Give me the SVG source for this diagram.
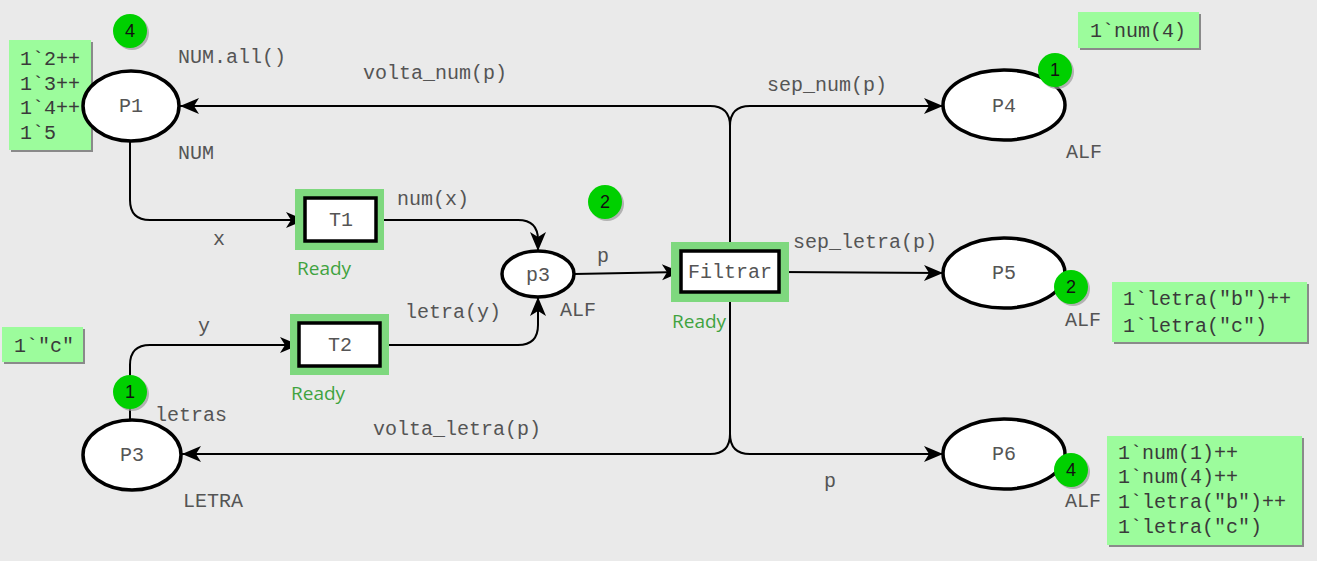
<svg xmlns="http://www.w3.org/2000/svg" width="1317" height="561" viewBox="0 0 1317 561">
<defs>
<style>
.place{fill:#fff;stroke:#000;stroke-width:3.5}
.trans{fill:#fff;stroke:#000;stroke-width:3.5}
.hl{fill:#7ed87e}
.arc{fill:none;stroke:#000;stroke-width:2}
.lbl{font-family:"Liberation Mono","Courier New",monospace;font-size:20px;fill:#555}
.name{font-family:"Liberation Mono","Courier New",monospace;font-size:20px;fill:#555;text-anchor:middle;dominant-baseline:central}
.ready{font-family:"Open Sans","Liberation Sans",sans-serif;font-size:19px;fill:#3fa33f}
.tok{fill:#00d000}
.tokshadow{fill:#9a9a9a;opacity:0.7}
.toktxt{font-family:"Liberation Sans",Arial,sans-serif;font-size:18px;fill:#111;text-anchor:middle;dominant-baseline:central}
.mark{fill:#9cfc9c}
.markshadow{fill:#8a8a8a}
.marktxt{font-family:"Liberation Mono","Courier New",monospace;font-size:20px;fill:#3a3a3a}
</style>
<marker id="ah" markerUnits="userSpaceOnUse" markerWidth="22" markerHeight="20" viewBox="-20 -10 22 20" refX="0" refY="0" orient="auto">
<path d="M0,0 L-19,-8 L-14,0 L-19,8 Z" fill="#000"/>
</marker>
</defs>
<rect width="1317" height="561" fill="#eaeaea"/>

<g id="connectors">
<path class="arc" d="M130,141 L130,200 Q130,220 150,220 L305,220" marker-end="url(#ah)"/>
<path class="arc" d="M376,220 L518,220 Q538,220 538,240 L538,251" marker-end="url(#ah)"/>
<path class="arc" d="M130,419 L130,365 Q130,345 150,345 L299,345" marker-end="url(#ah)"/>
<path class="arc" d="M380,345 L518,345 Q538,345 538,325 L538,297" marker-end="url(#ah)"/>
<path class="arc" d="M574,274 L681,272" marker-end="url(#ah)"/>
<path class="arc" d="M730,251 L730,126 Q730,106 710,106 L180,106" marker-end="url(#ah)"/>
<path class="arc" d="M730,251 L730,126 Q730,106 750,106 L943,106" marker-end="url(#ah)"/>
<path class="arc" d="M779,272 L943,273" marker-end="url(#ah)"/>
<path class="arc" d="M730,292 L730,434 Q730,454 710,454 L182,454" marker-end="url(#ah)"/>
<path class="arc" d="M730,292 L730,434 Q730,454 750,454 L943,454" marker-end="url(#ah)"/>
</g>

<g id="arc-labels">
<text class="lbl" x="363" y="79">volta_num(p)</text>
<text class="lbl" x="767" y="91">sep_num(p)</text>
<text class="lbl" x="213" y="245">x</text>
<text class="lbl" x="397" y="205">num(x)</text>
<text class="lbl" x="597" y="262">p</text>
<text class="lbl" x="405" y="318">letra(y)</text>
<text class="lbl" x="198" y="332">y</text>
<text class="lbl" x="793" y="248">sep_letra(p)</text>
<text class="lbl" x="373" y="435">volta_letra(p)</text>
<text class="lbl" x="824" y="487">p</text>
</g>

<g id="P1">
<rect class="markshadow" x="11" y="42" width="82" height="110"/>
<rect class="mark" x="9" y="40" width="82" height="110"/>
<text class="marktxt" x="20" y="65">1`2++</text>
<text class="marktxt" x="20" y="90">1`3++</text>
<text class="marktxt" x="20" y="114">1`4++</text>
<text class="marktxt" x="20" y="139">1`5</text>
<ellipse class="place" cx="131" cy="106" rx="48" ry="35"/>
<text class="name" x="131" y="106">P1</text>
<text class="lbl" x="178" y="63">NUM.all()</text>
<text class="lbl" x="178" y="159">NUM</text>
<circle class="tokshadow" cx="132" cy="33" r="17"/>
<circle class="tok" cx="130" cy="31" r="17"/>
<text class="toktxt" x="130" y="31">4</text>
</g>

<g id="T1">
<rect class="hl" x="295" y="189" width="89" height="61"/>
<rect class="trans" x="305" y="198" width="71" height="43"/>
<text class="name" x="341" y="220">T1</text>
<text class="ready" x="297" y="275">Ready</text>
</g>

<g id="T2">
<rect class="hl" x="290" y="314" width="99" height="61"/>
<rect class="trans" x="299" y="323" width="81" height="43"/>
<text class="name" x="340" y="345">T2</text>
<text class="ready" x="291" y="400">Ready</text>
</g>

<g id="p3">
<ellipse class="place" cx="538" cy="274" rx="36" ry="23"/>
<text class="name" x="538" y="275">p3</text>
<text class="lbl" x="560" y="316">ALF</text>
<circle class="tokshadow" cx="607" cy="204" r="17"/>
<circle class="tok" cx="605" cy="202" r="17"/>
<text class="toktxt" x="605" y="202">2</text>
</g>

<g id="Filtrar">
<rect class="hl" x="671" y="242" width="118" height="60"/>
<rect class="trans" x="681" y="251" width="98" height="41"/>
<text class="name" x="730" y="272">Filtrar</text>
<text class="ready" x="672" y="328">Ready</text>
</g>

<g id="P3">
<rect class="markshadow" x="4" y="329" width="81" height="35"/>
<rect class="mark" x="2" y="327" width="81" height="35"/>
<text class="marktxt" x="14" y="352">1`"c"</text>
<ellipse class="place" cx="132" cy="455" rx="49" ry="35"/>
<text class="name" x="132" y="455">P3</text>
<text class="lbl" x="155" y="421">letras</text>
<text class="lbl" x="183" y="507">LETRA</text>
<circle class="tokshadow" cx="132" cy="394" r="17"/>
<circle class="tok" cx="130" cy="392" r="17"/>
<text class="toktxt" x="130" y="392">1</text>
</g>

<g id="P4">
<rect class="markshadow" x="1080" y="14" width="121" height="36"/>
<rect class="mark" x="1078" y="12" width="121" height="36"/>
<text class="marktxt" x="1090" y="37">1`num(4)</text>
<ellipse class="place" cx="1004" cy="105" rx="61" ry="35"/>
<text class="name" x="1004" y="106">P4</text>
<text class="lbl" x="1066" y="158">ALF</text>
<circle class="tokshadow" cx="1057" cy="72" r="17"/>
<circle class="tok" cx="1055" cy="70" r="17"/>
<text class="toktxt" x="1055" y="70">1</text>
</g>

<g id="P5">
<rect class="markshadow" x="1114" y="284" width="195" height="60"/>
<rect class="mark" x="1112" y="282" width="195" height="60"/>
<text class="marktxt" x="1123" y="305">1`letra("b")++</text>
<text class="marktxt" x="1123" y="332">1`letra("c")</text>
<ellipse class="place" cx="1004" cy="273" rx="61" ry="35"/>
<text class="name" x="1004" y="273">P5</text>
<text class="lbl" x="1065" y="326">ALF</text>
<circle class="tokshadow" cx="1073" cy="289" r="17"/>
<circle class="tok" cx="1071" cy="287" r="17"/>
<text class="toktxt" x="1071" y="287">2</text>
</g>

<g id="P6">
<rect class="markshadow" x="1109" y="438" width="195" height="109"/>
<rect class="mark" x="1107" y="436" width="195" height="109"/>
<text class="marktxt" x="1118" y="459">1`num(1)++</text>
<text class="marktxt" x="1118" y="483">1`num(4)++</text>
<text class="marktxt" x="1118" y="508">1`letra("b")++</text>
<text class="marktxt" x="1118" y="533">1`letra("c")</text>
<ellipse class="place" cx="1004" cy="454" rx="61" ry="35"/>
<text class="name" x="1004" y="454">P6</text>
<text class="lbl" x="1065" y="507">ALF</text>
<circle class="tokshadow" cx="1073" cy="472" r="17"/>
<circle class="tok" cx="1071" cy="470" r="17"/>
<text class="toktxt" x="1071" y="470">4</text>
</g>
</svg>
